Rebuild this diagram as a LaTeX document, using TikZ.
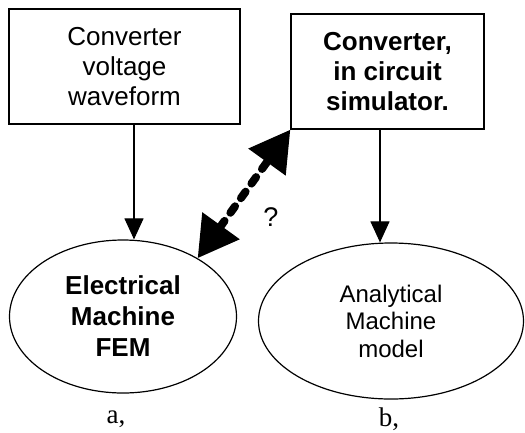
\documentclass[tikz,border=0pt]{standalone}
\usepackage{fontspec}
\setmainfont{Liberation Sans}
\newfontfamily\capfont{Liberation Serif}
\usetikzlibrary{shapes.geometric,arrows.meta}

\begin{document}
\begin{tikzpicture}[x=1pt,y=-1pt,
  boxnode/.style={draw,line width=1.3pt,rectangle,inner sep=0pt,align=center,
    font=\fontsize{26}{30}\selectfont},
  ovalnode/.style={draw,line width=1.2pt,ellipse,inner sep=0pt,align=center},
  flow/.style={line width=1.1pt,-{Triangle[length=21pt,width=19pt]}},
  link/.style={line width=8pt,line cap=round,dash pattern=on 8pt off 10pt,
    {Triangle[length=40pt,width=44pt,line cap=butt]}-{Triangle[length=40pt,width=44pt,line cap=butt]}}
]
\useasboundingbox (0,0) rectangle (525,432);

% source blocks
\node[boxnode,minimum width=231pt,minimum height=115pt] (wave) at (124.5,66.5)
  {Converter\\voltage\\waveform};
\node[boxnode,minimum width=193pt,minimum height=115pt,font=\fontsize{26}{30}\selectfont\bfseries] (sim) at (387.5,71.5)
  {Converter,\\in circuit\\simulator.};

% machine models
\node[ovalnode,minimum width=227pt,minimum height=153pt,font=\fontsize{26}{31}\selectfont\bfseries] (fem) at (123,316.5)
  {Electrical\\Machine\\FEM};
\node[ovalnode,minimum width=265pt,minimum height=156pt,font=\fontsize{24}{27.5}\selectfont] (ana) at (391,321)
  {Analytical\\Machine\\model};

% captions and query mark
\node[font=\capfont\fontsize{27}{30}\selectfont] (capa) at (116,419) {a,};
\node[font=\capfont\fontsize{27}{30}\selectfont] (capb) at (389,419) {b,};
\node[font=\fontsize{27}{30}\selectfont] (query) at (271,217) {?};

% connectors
\coordinate (xa) at (134,0);
\coordinate (xb) at (380,0);
\draw[flow] (wave.south -| xa) -- (fem.north -| xa);
\draw[flow] (sim.south -| xb) -- (ana.north -| xb);
\draw[link] (fem.38) -- (sim.south west);
\end{tikzpicture}
\end{document}
